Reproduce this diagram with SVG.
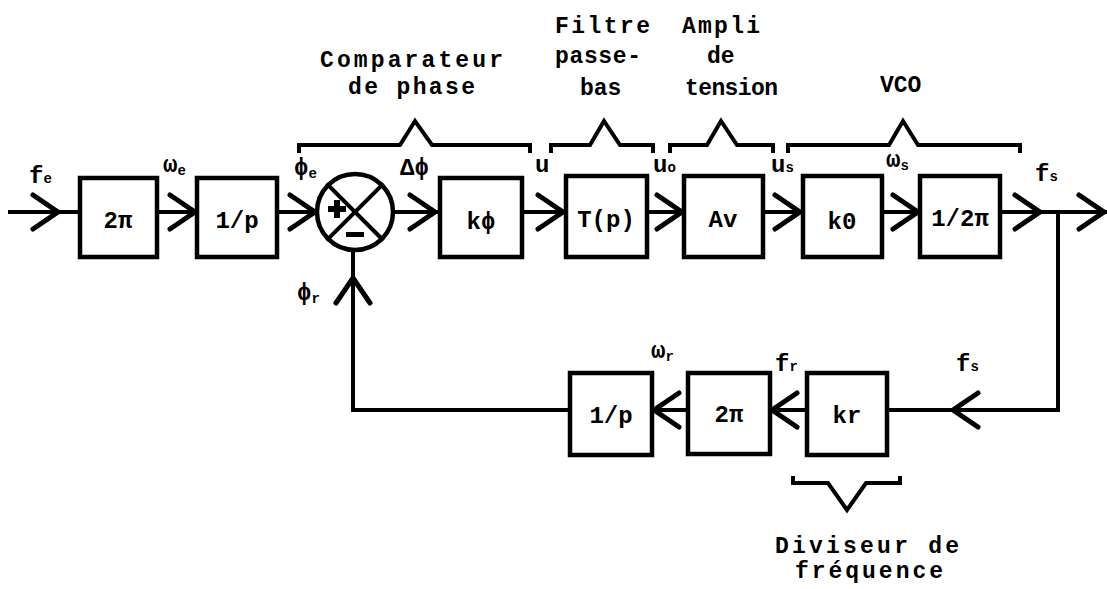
<svg xmlns="http://www.w3.org/2000/svg" width="1107" height="589" viewBox="0 0 1107 589">
<style>
.ln{fill:none;stroke:#000;stroke-width:4;stroke-linecap:square;stroke-linejoin:miter}
.box{fill:#fff;stroke:#000;stroke-width:4.5}
.chev{fill:none;stroke:#000;stroke-width:5;stroke-linecap:round;stroke-linejoin:miter}
.br{fill:none;stroke:#000;stroke-width:4;stroke-linejoin:miter}
.t{font-family:"Liberation Mono","DejaVu Sans Mono",monospace;font-weight:bold;fill:#000}
.title{font-size:23px}
.in{font-size:24px;text-anchor:middle}
.sig{font-size:24px}
.sub{font-size:14px}
</style>
<defs>
<path id="chev" d="M-25,-17 L0,0 L-25,17"/>
</defs>
<rect width="1107" height="589" fill="#fff"/>

<g id="connectors">
<path class="ln" d="M10,212 H80 M157,212 H197 M277,212 H317 M393,212 H440 M522,212 H566 M647,212 H684 M763,212 H803 M882,212 H920 M1000,212 H1105"/>
<path class="ln" d="M1058,212 V410 H887 M807,410 H770 M688,410 H652 M570,410 H353 V251"/>
<g class="chev">
<use href="#chev" transform="translate(58,212)"/>
<use href="#chev" transform="translate(195,212)"/>
<use href="#chev" transform="translate(315,212)"/>
<use href="#chev" transform="translate(435,212)"/>
<use href="#chev" transform="translate(563,212)"/>
<use href="#chev" transform="translate(682,212)"/>
<use href="#chev" transform="translate(800,212)"/>
<use href="#chev" transform="translate(918,212)"/>
<use href="#chev" transform="translate(1040,212)"/>
<use href="#chev" transform="translate(1104,212)"/>
<use href="#chev" transform="translate(953,410) rotate(180)"/>
<use href="#chev" transform="translate(772,410) rotate(180)"/>
<use href="#chev" transform="translate(654,410) rotate(180)"/>
<use href="#chev" transform="translate(353,278) rotate(-90)"/>
</g>
</g>

<g id="n-2pi">
<rect class="box" x="80" y="178" width="77" height="79"/>
<text class="t in" x="118" y="228">2π</text>
</g>
<g id="n-int1">
<rect class="box" x="197" y="178" width="80" height="79"/>
<text class="t in" x="237" y="228" font-size="26">1/p</text>
</g>
<g id="n-sum">
<circle cx="355" cy="212" r="38" fill="#fff" stroke="#000" stroke-width="4.5"/>
<path class="ln" d="M328,185 L382,239 M382,185 L328,239"/>
<path d="M328,206 h6 v-6 h6 v6 h6 v6 h-6 v6 h-6 v-6 h-6 z" fill="#000"/>
<rect x="346" y="232" width="18" height="5" fill="#000"/>
</g>
<g id="n-kphi">
<rect class="box" x="440" y="178" width="82" height="79"/>
<text class="t in" x="481" y="229">kϕ</text>
</g>
<g id="n-tp">
<rect class="box" x="566" y="176" width="81" height="81"/>
<text class="t in" x="606" y="227" font-size="22">T(p)</text>
</g>
<g id="n-av">
<rect class="box" x="684" y="176" width="79" height="81"/>
<text class="t in" x="723" y="227" font-size="22">Av</text>
</g>
<g id="n-k0">
<rect class="box" x="803" y="176" width="79" height="81"/>
<text class="t in" x="842" y="229" font-size="22">k0</text>
</g>
<g id="n-inv2pi">
<rect class="box" x="920" y="176" width="80" height="81"/>
<text class="t in" x="960" y="226" font-size="26">1/2π</text>
</g>
<g id="n-int2">
<rect class="box" x="570" y="373" width="82" height="82"/>
<text class="t in" x="611" y="423" font-size="26">1/p</text>
</g>
<g id="n-2pi2">
<rect class="box" x="688" y="373" width="82" height="81"/>
<text class="t in" x="729" y="422">2π</text>
</g>
<g id="n-kr">
<rect class="box" x="807" y="373" width="80" height="82"/>
<text class="t in" x="847" y="423" font-size="22">kr</text>
</g>

<g id="braces">
<path class="br" d="M299,153 V145 H400 L415,121 L432,145 H530 V153"/>
<path class="br" d="M551,153 V145 H590 L604,121 L620,145 H653 V153"/>
<path class="br" d="M670,153 V145 H707 L721,121 L737,145 H773 V153"/>
<path class="br" d="M788,153 V145 H889 L903,121 L918,145 H1020 V153"/>
<path class="br" d="M793,476 V483 H828 L847,510 L866,483 H900 V476"/>
</g>

<g id="titles">
<text class="t title" x="320" y="67" textLength="183">Comparateur</text>
<text class="t title" x="348" y="94" textLength="127">de phase</text>
<text class="t title" x="555" y="33" textLength="95">Filtre</text>
<text class="t title" x="555" y="63" textLength="86">passe-</text>
<text class="t title" x="580" y="95">bas</text>
<text class="t title" x="707" y="63">de</text>
<text class="t title" x="682" y="33" textLength="78">Ampli</text>
<text class="t title" x="685" y="95" textLength="93">tension</text>
<text class="t title" x="880" y="92" font-size="21">VCO</text>
<text class="t title" x="775" y="553" textLength="184">Diviseur de</text>
<text class="t title" x="795" y="578" textLength="148">fréquence</text>
</g>

<g id="signals">
<text class="t sig" x="29" y="183">f<tspan class="sub">e</tspan></text>
<text class="t sig" x="163" y="172">ω<tspan class="sub" dy="3">e</tspan></text>
<text class="t sig" x="294" y="175">ϕ<tspan class="sub" dy="3">e</tspan></text>
<text class="t sig" x="400" y="175">Δϕ</text>
<text class="t sig" x="535" y="172">u</text>
<text class="t sig" x="653" y="172">u<tspan class="sub">o</tspan></text>
<text class="t sig" x="771" y="172">u<tspan class="sub">s</tspan></text>
<text class="t sig" x="886" y="167">ω<tspan class="sub" dy="3">s</tspan></text>
<text class="t sig" x="1035" y="181">f<tspan class="sub">s</tspan></text>
<text class="t sig" x="297" y="300">ϕ<tspan class="sub" dy="3">r</tspan></text>
<text class="t sig" x="651" y="358">ω<tspan class="sub" dy="3">r</tspan></text>
<text class="t sig" x="775" y="371">f<tspan class="sub">r</tspan></text>
<text class="t sig" x="956" y="371">f<tspan class="sub">s</tspan></text>
</g>
</svg>
